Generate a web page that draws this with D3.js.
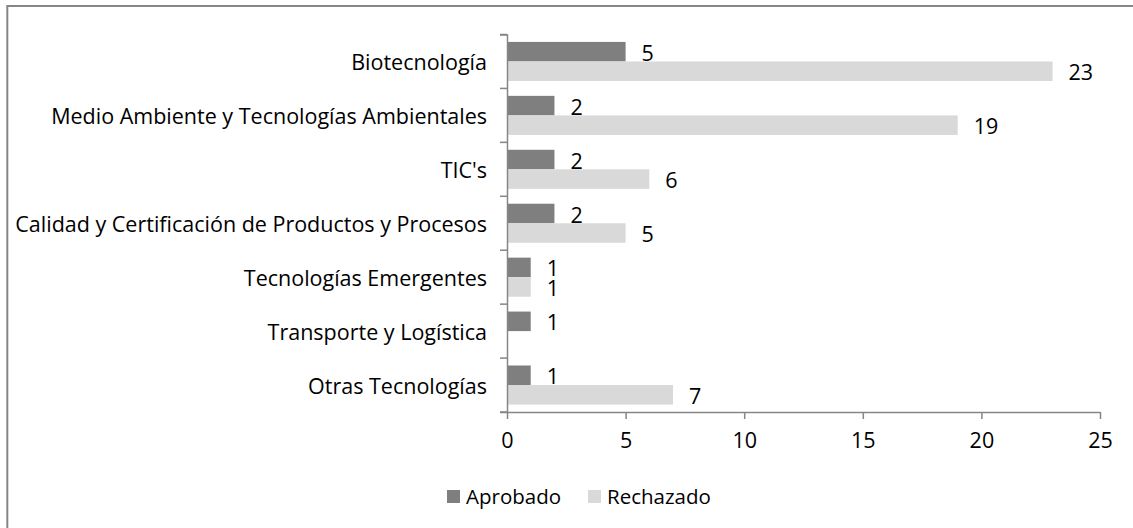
<!DOCTYPE html>
<html>
<head>
<meta charset="utf-8">
<script src="https://cdn.jsdelivr.net/npm/d3@7"></script>
<style>
  body { margin: 0; background: #fff; }
  svg text { font-family: "Open Sans", Lato, sans-serif; fill: #000; }
</style>
</head>
<body>
<div id="chart"></div>
<script>
// Data
const categories = [
    "Biotecnología",
    "Medio Ambiente y Tecnologías Ambientales",
    "TIC's",
    "Calidad y Certificación de Productos y Procesos",
    "Tecnologías Emergentes",
    "Transporte y Logística",
    "Otras Tecnologías"
];
const aprobado = [5, 2, 2, 2, 1, 1, 1];
const rechazado = [23, 19, 6, 5, 1, null, 7];
const seriesNames = ["Aprobado", "Rechazado"];
const xTicks = [0, 5, 10, 15, 20, 25];

const colors = {Aprobado: "#7f7f7f", Rechazado: "#d9d9d9"};
const axisColor = "#868686";

const W = 1133, H = 528;
const margin = {top: 34.5, left: 507, right: 33, bottom: 116};
const width = W - margin.left - margin.right,
      height = H - margin.top - margin.bottom;

const svg = d3.select("#chart")
              .append("svg")
              .attr("width", W)
              .attr("height", H);

// outer chart border (cut off on right and bottom)
svg.append("rect")
   .attr("x", 7.3).attr("y", 6)
   .attr("width", W + 20).attr("height", H + 20)
   .attr("fill", "none")
   .attr("stroke", axisColor)
   .attr("stroke-width", 2);

const g = svg.append("g")
             .attr("transform", `translate(${margin.left},${margin.top})`);

const x = d3.scaleLinear().domain([0, 25]).range([0, width]);
const y = d3.scaleBand().domain(categories).range([0, height]).paddingInner(0).paddingOuter(0);
const inner = d3.scaleBand().domain(seriesNames).range([0, y.bandwidth()]).paddingOuter(0.38).paddingInner(0);

const rows = categories.map((c, i) => ({cat: c, Aprobado: aprobado[i], Rechazado: rechazado[i]}));

// Bars
const grp = g.selectAll(".row")
             .data(rows)
             .enter()
             .append("g")
             .attr("transform", d => `translate(0,${y(d.cat)})`);

seriesNames.forEach(s => {
    const valid = grp.filter(d => d[s] != null);
    valid.append("rect")
         .attr("x", 0.5)
         .attr("y", inner(s))
         .attr("width", d => x(d[s]) - 0.5)
         .attr("height", inner.bandwidth())
         .attr("fill", colors[s]);
    valid.append("text")
         .attr("x", d => x(d[s]) + 16)
         .attr("y", inner(s) + inner.bandwidth() / 2 + 1.5)
         .attr("dy", "0.35em")
         .style("font-size", "21.5px")
         .text(d => d[s]);
});

// Y axis
const yAxis = g.append("g")
               .call(d3.axisLeft(y).tickSize(7).tickSizeOuter(7).tickPadding(14).tickValues(categories));
yAxis.select(".domain").attr("stroke", axisColor).attr("stroke-width", 1.5);
yAxis.selectAll("line").remove();
// ticks at band boundaries
g.append("g")
 .selectAll("line")
 .data(d3.range(categories.length + 1))
 .enter()
 .append("line")
 .attr("x1", -7).attr("x2", 0)
 .attr("y1", i => i * y.step())
 .attr("y2", i => i * y.step())
 .attr("stroke", axisColor).attr("stroke-width", 1.5);
yAxis.selectAll("text")
     .style("font-size", "21.5px")
     .attr("x", -20)
     .attr("dy", "0.4em");

// X axis
const xAxis = g.append("g")
               .attr("transform", `translate(0,${height})`)
               .call(d3.axisBottom(x).tickValues(xTicks).tickSize(7).tickSizeOuter(0).tickPadding(14));
xAxis.select(".domain").attr("stroke", axisColor).attr("stroke-width", 1.5);
xAxis.selectAll("line").attr("stroke", axisColor).attr("stroke-width", 1.5);
xAxis.selectAll("text").style("font-size", "21.5px");

// Legend
const legendX = [447, 588];
const legend = svg.append("g")
                  .selectAll("g")
                  .data(seriesNames)
                  .enter()
                  .append("g")
                  .attr("transform", (d, i) => `translate(${legendX[i]},490)`);
legend.append("rect")
      .attr("width", 13).attr("height", 13)
      .attr("fill", d => colors[d]);
legend.append("text")
      .attr("x", 19).attr("y", 6.5)
      .attr("dy", "0.35em")
      .style("font-size", "20.5px")
      .text(d => d);
</script>
</body>
</html>
